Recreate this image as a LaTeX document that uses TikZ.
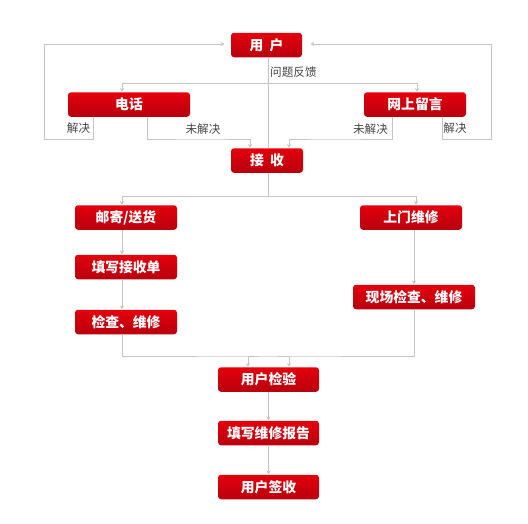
\documentclass[tikz,border=0pt]{standalone}
\usepackage{fontspec}
\usepackage{tikz}
\usetikzlibrary{arrows.meta,positioning,calc}
\setmainfont{Noto Sans CJK SC}
\definecolor{redtop}{RGB}{228,0,12}
\definecolor{redbot}{RGB}{184,0,14}
\definecolor{wire}{RGB}{196,196,196}
\definecolor{txtgray}{RGB}{70,70,70}
\tikzset{
  box/.style={rounded corners=3pt,top color=redtop,bottom color=redbot,draw=none,
    text=white,font=\fontsize{13.8}{15}\selectfont\bfseries,inner sep=0pt,
    minimum height=24.5pt,minimum width=102pt},
  line/.style={wire,line width=0.8pt},
  arr/.style={line,-{Stealth[length=3.5pt,width=4.5pt]},shorten >=0.5pt},
  lbl/.style={text=txtgray,font=\fontsize{11.6}{13}\selectfont,inner sep=0pt},
}

\begin{document}
\begin{tikzpicture}[x=1pt,y=-1pt]
\useasboundingbox (0,0) rectangle (528,523);
% top: user and the two ways of feedback
\node[box,minimum width=71pt] (yonghu) at (266.5,45) {用\ \ 户};
\node[box,minimum width=122pt] (dianhua) at (129,104.5) {电话};
\node[box] (wangshang) at (415,104.5) {网上留言};
\node[box,minimum width=72pt] (jieshou) at (267,160.5) {接\ \ 收};
% middle: two service branches
\node[box] (youji) at (126,217.5) {邮寄/送货};
\node[box] (shangmen) at (411,217.5) {上门维修};
\node[box] (tianxie) at (126,267) {填写接收单};
\node[box] (jiancha) at (126,322) {检查、维修};
\node[box,minimum width=122pt] (xianchang) at (414,297) {现场检查、维修};
% bottom: acceptance
\node[box,minimum width=101pt] (jianyan) at (268.5,379.5) {用户检验};
\node[box,minimum width=101pt] (baogao) at (268.5,433) {填写维修报告};
\node[box,minimum width=101pt] (qianshou) at (268.5,487) {用户签收};

\coordinate (fk) at (268.5,83);
\coordinate (js) at (268,196);
\coordinate (hz) at (268,356);

% feedback
\draw[line] (yonghu.south -| fk) -- (jieshou.north -| fk);
\draw[arr] (fk) -| ([xshift=-7]dianhua.north);
\draw[arr] (fk) -| ([xshift=2]wangshang.north);
\node[lbl,anchor=west] (wenti) at (270,72) {问题反馈};

% solved -> back to user
\draw[arr] ([xshift=-36]dianhua.south) -- ++(0,22) -| (44,44) -- ([xshift=-6]yonghu.west |- 0,44);
\draw[arr] ([xshift=27]wangshang.south) -- ++(0,22) -| (491,44) -- ([xshift=8]yonghu.east |- 0,44);
\node[lbl] (jj1) at (78.5,128) {解决};
\node[lbl] (jj2) at (455,128) {解决};

% not solved -> received
\draw[arr] ([xshift=18]dianhua.south) |- (204,139) -| ([xshift=-17]jieshou.north);
\draw[arr] ([xshift=-23]wangshang.south) |- (330,139) -| ([xshift=22]jieshou.north);
\node[lbl] (wj1) at (203,129.5) {未解决};
\node[lbl] (wj2) at (370.5,129.5) {未解决};

% split
\draw[line] (jieshou.south -| js) -- (js);
\draw[arr] (js) -| ([xshift=-4]youji.north);
\draw[arr] (js) -| ([xshift=5]shangmen.north);
\draw[arr] ([xshift=-4]youji.south) -- ([xshift=-4]tianxie.north);
\draw[arr] ([xshift=-4]tianxie.south) -- ([xshift=-4]jiancha.north);
\draw[arr] (xianchang.north |- shangmen.south) -- (xianchang.north);

% join
\draw[arr] ([xshift=-4]jiancha.south) |- (hz) -| ([xshift=-20.5]jianyan.north);
\draw[arr] (xianchang.south) |- (hz) -| ([xshift=20.5]jianyan.north);
\draw[arr] (jianyan.south) -- (baogao.north);
\draw[arr] (baogao.south) -- (qianshou.north);
\end{tikzpicture}
\end{document}
